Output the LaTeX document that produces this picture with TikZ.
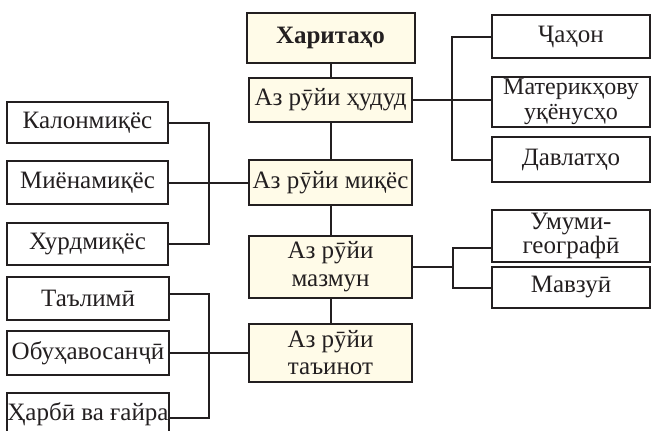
\documentclass[tikz,border=0pt]{standalone}
\usepackage{fontspec}
\setmainfont{Liberation Serif}
\usepackage{tikz}
\usetikzlibrary{calc}
\definecolor{boxcream}{RGB}{255,251,232}
\definecolor{inkline}{RGB}{35,31,32}
\tikzset{
  basebox/.style={draw=inkline, line width=2pt, inner sep=0pt, outer sep=0pt,
    text=inkline, align=center, font=\fontsize{25}{28}\selectfont},
  mainbox/.style={basebox, fill=boxcream, minimum width=163pt},
  sidebox/.style={basebox, fill=white, minimum width=161pt},
  rightbox/.style={basebox, fill=white, minimum width=158pt},
  link/.style={draw=inkline, line width=2pt}
}

\begin{document}
\begin{tikzpicture}[x=1pt, y=-1pt]
			%%%%% START %%%%%
			\useasboundingbox (0, 0) rectangle (651, 431);
			
			% middle column
			\node[mainbox, minimum width=168pt, minimum height=50pt, font=\fontsize{25}{28}\selectfont\bfseries] (xarita) at (330.5, 38) {Харитаҳо};
			\node[mainbox, minimum height=44pt] (hudud) at (330.5, 99.5) {Аз рӯйи ҳудуд};
			\node[mainbox, minimum height=45pt] (mikyos) at (330.5, 182.5) {Аз рӯйи миқёс};
			\node[mainbox, minimum height=62pt] (mazmun) at (330.5, 267) {Аз рӯйи\\мазмун};
			\node[mainbox, minimum height=58pt, font=\fontsize{25}{27}\selectfont] (tainot) at (330.5, 353) {Аз рӯйи\\таъинот};
			
			\draw[link] (xarita.south) -- (hudud.north);
			\draw[link] (hudud.south) -- (mikyos.north);
			\draw[link] (mikyos.south) -- (mazmun.north);
			\draw[link] (mazmun.south) -- (tainot.north);
			
			% right side
			\node[rightbox, minimum height=43pt] (jahon) at (571, 36.5) {Ҷаҳон};
			\node[rightbox, minimum height=50pt, font=\fontsize{24}{25}\selectfont] (materik) at (571, 102) {Материкҳову\\уқёнусҳо};
			\node[rightbox, minimum height=45pt] (davlat) at (571, 159.5) {Давлатҳо};
			\node[rightbox, minimum height=52pt, font=\fontsize{25}{21}\selectfont] (umumi) at (571, 236) {Умуми-\\географӣ};
			\node[rightbox, minimum height=41pt] (mavzui) at (571, 287.5) {Мавзуӣ};
			
			\draw[link] (hudud.east) -- ++(40, 0) coordinate (jr1);
			\draw[link] (jr1) -- (jr1 -| materik.west);
			\draw[link] (jahon.west) -| (jr1) |- (davlat.west);
			
			\draw[link] (mazmun.east) -- ++(41, 0) coordinate (jr2);
			\draw[link] ([yshift=-12pt]umumi.west) -| (jr2) |- (mavzui.west);
			
			% left side
			\node[sidebox, minimum height=41pt] (kalon) at (87.5, 122.5) {Калонмиқёс};
			\node[sidebox, minimum height=43pt] (miyona) at (87.5, 182.5) {Миёнамиқёс};
			\node[sidebox, minimum height=42pt] (xurd) at (87.5, 244) {Хурдмиқёс};
			\node[sidebox, minimum width=162pt, minimum height=43pt] (talimi) at (88, 298.5) {Таълимӣ};
			\node[sidebox, minimum width=162pt, minimum height=44pt] (obuhavo) at (88, 353) {Обуҳавосанҷӣ};
			\node[sidebox, minimum width=162pt, minimum height=42pt] (harbi) at (88, 414) {Ҳарбӣ ва ғайра};
			
			\draw[link] (mikyos.west) -- ++(-40, 0) coordinate (jl1);
			\draw[link] (miyona.east) -- (jl1);
			\draw[link] (kalon.east) -| (jl1) |- (xurd.east);
			
			\draw[link] (tainot.west) -- ++(-40, 0) coordinate (jl2);
			\draw[link] (obuhavo.east) -- (jl2);
			\draw[link] ([yshift=5pt]talimi.east) -| (jl2) |- ([yshift=-4pt]harbi.east);
			%%%%% END %%%%%
\end{tikzpicture}
\end{document}
